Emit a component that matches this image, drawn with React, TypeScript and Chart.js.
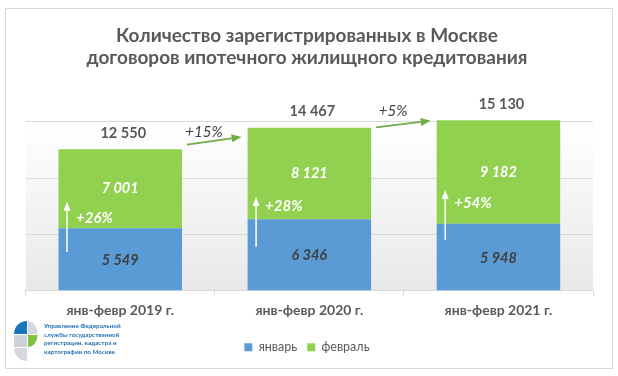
import React, { useEffect, useRef } from 'react';
import { Chart, registerables } from 'chart.js';

Chart.register(...registerables);

// ---- data ----
const categories = ['янв-февр 2019 г.', 'янв-февр 2020 г.', 'янв-февр 2021 г.'];
const seriesNames = ['январь', 'февраль'];
const january = [5549, 6346, 5948];
const february = [7001, 8121, 9182];
const monthGrowth = ['+26%', '+28%', '+54%'];
const yearGrowth = ['+15%', '+5%'];
const yMax = 15000;
const yStep = 5000;
const titleLines = [
  'Количество зарегистрированных в Москве',
  'договоров ипотечного жилищного кредитования',
];
const logoLines = [
  'Управление Федеральной',
  'службы государственной',
  'регистрации, кадастра и',
  'картографии по Москве',
];
// annotation anchors, in axis values
const monthArrowFrom = [3450, 3900, 4530];
const monthArrowTo = [7890, 8310, 8940];
const monthGrowthAt = [6420, 7500, 7800];
const yearArrowFrom = [12960, 14490];
const yearArrowTo = [13650, 15090];
const yearGrowthAt = [14050, 15900];

const FONT = 'Lato, Roboto, "Noto Sans", sans-serif';
const GRAY = '#595959';
const DARK = '#404040';
const BLUE = '#5B9BD5';
const GREEN = '#92D050';
const ARROW_GREEN = '#70AD47';
const GRID = '#d9d9d9';

const fmt = (n: number) => String(n).replace(/\B(?=(\d{3})+(?!\d))/g, ' ');

function arrow(ctx: CanvasRenderingContext2D, x1: number, y1: number, x2: number, y2: number, color: string, lw: number, headLen: number, headW: number) {
  const ang = Math.atan2(y2 - y1, x2 - x1);
  const bx = x2 - Math.cos(ang) * headLen;
  const by = y2 - Math.sin(ang) * headLen;
  ctx.save();
  ctx.strokeStyle = color;
  ctx.fillStyle = color;
  ctx.lineWidth = lw;
  ctx.beginPath();
  ctx.moveTo(x1, y1);
  ctx.lineTo(bx, by);
  ctx.stroke();
  const px = -Math.sin(ang) * headW / 2;
  const py = Math.cos(ang) * headW / 2;
  ctx.beginPath();
  ctx.moveTo(x2, y2);
  ctx.lineTo(bx + px, by + py);
  ctx.lineTo(bx - px, by - py);
  ctx.closePath();
  ctx.fill();
  ctx.restore();
}

const backgroundPlugin = {
  id: 'bg',
  beforeDraw(chart: any) {
    const { ctx, chartArea: a } = chart;
    ctx.save();
    ctx.fillStyle = '#ffffff';
    ctx.fillRect(0, 0, chart.width, chart.height);
    ctx.strokeStyle = GRID;
    ctx.lineWidth = 1;
    ctx.strokeRect(5.5, 8.5, 607, 360);
    const g = ctx.createLinearGradient(0, a.top, 0, a.bottom);
    g.addColorStop(0, '#ffffff');
    g.addColorStop(1, '#e8e8e8');
    ctx.fillStyle = g;
    ctx.fillRect(a.left, a.top, a.right - a.left, a.bottom - a.top);
    ctx.restore();
  },
};

const labelsPlugin = {
  id: 'labels',
  afterDatasetsDraw(chart: any) {
    const { ctx } = chart;
    const y = chart.scales.y;
    const m0 = chart.getDatasetMeta(0).data;
    const m1 = chart.getDatasetMeta(1).data;
    ctx.save();
    ctx.textAlign = 'center';
    ctx.textBaseline = 'middle';
    categories.forEach((_, i) => {
      const b0 = m0[i];
      const b1 = m1[i];
      // segment values
      ctx.font = `italic bold 14.5px ${FONT}`;
      ctx.fillStyle = DARK;
      ctx.fillText(fmt(january[i]), b0.x, (b0.y + b0.base) / 2 + 1);
      ctx.fillStyle = '#ffffff';
      ctx.fillText(fmt(february[i]), b1.x, (b1.y + b1.base) / 2);
      // totals
      ctx.font = `bold 14.5px ${FONT}`;
      ctx.fillStyle = GRAY;
      ctx.fillText(fmt(january[i] + february[i]), b1.x + 3, b1.y - 16);
      // month growth arrows
      const left = b0.x - b0.width / 2;
      const ax = left + 8.5;
      arrow(ctx, ax, y.getPixelForValue(monthArrowFrom[i]), ax, y.getPixelForValue(monthArrowTo[i]), '#ffffff', 1.5, 9, 7);
      ctx.font = `italic bold 15px ${FONT}`;
      ctx.fillStyle = '#ffffff';
      ctx.textAlign = 'left';
      ctx.fillText(monthGrowth[i], ax + 9, y.getPixelForValue(monthGrowthAt[i]));
      ctx.textAlign = 'center';
    });
    yearGrowth.forEach((t, i) => {
      const a = m1[i];
      const b = m1[i + 1];
      const x1 = a.x + a.width / 2 + 5;
      const x2 = b.x - b.width / 2 - 6;
      arrow(ctx, x1, y.getPixelForValue(yearArrowFrom[i]), x2, y.getPixelForValue(yearArrowTo[i]), ARROW_GREEN, 1.75, 10, 8);
      ctx.font = `italic 15px ${FONT}`;
      ctx.fillStyle = DARK;
      ctx.fillText(t, x1 + 17, y.getPixelForValue(yearGrowthAt[i]));
    });
    ctx.restore();
  },
  afterDraw(chart: any) {
    const { ctx } = chart;
    ctx.save();
    // logo
    ctx.fillStyle = '#1b75bb';
    ctx.beginPath();
    ctx.moveTo(27, 334);
    ctx.arc(27, 334, 13, Math.PI, Math.PI * 1.5);
    ctx.closePath();
    ctx.fill();
    ctx.fillStyle = '#d5d9de';
    ctx.beginPath();
    ctx.moveTo(28, 334);
    ctx.lineTo(28, 321);
    ctx.ellipse(28, 334, 9.5, 13, 0, Math.PI * 1.5, Math.PI * 2);
    ctx.closePath();
    ctx.fill();
    ctx.fillStyle = '#cdd2d8';
    ctx.fillRect(14, 335, 13, 12);
    ctx.fillStyle = '#7dc242';
    ctx.beginPath();
    ctx.moveTo(28, 335);
    ctx.lineTo(37.5, 335);
    ctx.ellipse(28, 335, 9.5, 12, 0, 0, Math.PI / 2);
    ctx.closePath();
    ctx.fill();
    ctx.fillStyle = '#d5d9de';
    ctx.beginPath();
    ctx.moveTo(27, 348);
    ctx.lineTo(14, 348);
    ctx.arc(27, 348, 13, Math.PI, Math.PI / 2, true);
    ctx.closePath();
    ctx.fill();
    ctx.fillStyle = '#1f6fb2';
    ctx.font = `bold 6.3px ${FONT}`;
    ctx.textAlign = 'left';
    ctx.textBaseline = 'middle';
    logoLines.forEach((l, i) => ctx.fillText(l, 44, 326 + i * 8.5));
    ctx.restore();
  },
};

export default function App() {
  const ref = useRef<HTMLCanvasElement | null>(null);
  useEffect(() => {
    if (!ref.current) return;
    const chart = new Chart(ref.current, {
      type: 'bar',
      data: {
        labels: categories,
        datasets: [
          { label: seriesNames[0], data: january, backgroundColor: BLUE, barPercentage: 0.653, categoryPercentage: 1, clip: false } as any,
          { label: seriesNames[1], data: february, backgroundColor: GREEN, barPercentage: 0.653, categoryPercentage: 1, clip: false } as any,
        ],
      },
      options: {
        responsive: false,
        animation: false,
        events: [],
        layout: { padding: { left: 21, right: 25, top: 0, bottom: 12.5 } },
        scales: {
          x: {
            stacked: true,
            grid: { drawOnChartArea: false, color: GRID, tickLength: 5 },
            border: { color: GRID, width: 1 },
            ticks: { color: GRAY, font: { family: FONT, size: 14, weight: 'bold' }, padding: 6 },
            afterFit: (s: any) => { s.height = 40.2; },
          },
          y: {
            stacked: true,
            min: 0,
            max: yMax,
            ticks: { display: false, stepSize: yStep },
            grid: { color: GRID, drawTicks: false },
            border: { display: false },
            afterFit: (s: any) => { s.width = 4.7; },
          },
        },
        plugins: {
          title: {
            display: true,
            text: titleLines,
            color: GRAY,
            font: { family: FONT, size: 19, weight: 'bold', lineHeight: 22 / 19 },
            padding: { top: 24.5, bottom: 53.2 },
          },
          legend: {
            position: 'bottom',
            labels: { boxWidth: 8, boxHeight: 8, color: GRAY, font: { family: FONT, size: 12.5 }, padding: 10 },
          },
          tooltip: { enabled: false },
        },
      } as any,
      plugins: [backgroundPlugin, labelsPlugin],
    });
    return () => chart.destroy();
  }, []);
  return (
    <div style={{ position: 'fixed', left: 0, top: 0, width: 618, height: 376 }}>
      <canvas ref={ref} width={618} height={376} style={{ display: 'block' }} />
    </div>
  );
}
